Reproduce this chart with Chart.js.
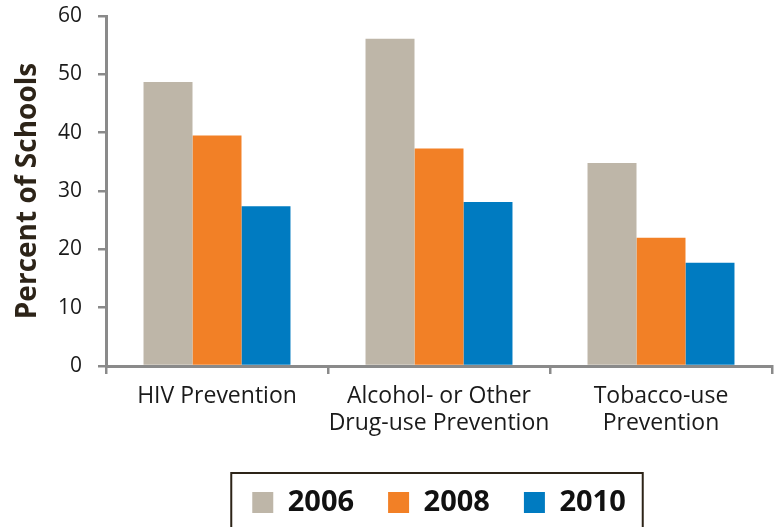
<!DOCTYPE html>
<html>
<head>
<meta charset="utf-8">
<script src="https://cdn.jsdelivr.net/npm/chart.js@4.4.1/dist/chart.umd.min.js"></script>
<style>
  html, body { margin: 0; padding: 0; background: #fff; }
  #wrap { width: 777px; height: 527px; }
</style>
</head>
<body>
<div id="wrap"><canvas id="chart" width="777" height="527"></canvas></div>
<script>
// Datos del gráfico
const categories = [
    ['HIV Prevention'],
    ['Alcohol- or Other', 'Drug-use Prevention'],
    ['Tobacco-use', 'Prevention']
];
const seriesNames = ['2006', '2008', '2010'];
const values2006 = [48.7, 56.1, 34.8];
const values2008 = [39.5, 37.3, 22.0];
const values2010 = [27.4, 28.1, 17.7];
const yTicks = [0, 10, 20, 30, 40, 50, 60];

const colors = ['#beb6a8', '#f28026', '#007bc1'];
const axisColor = '#8a8a8a';
const fontFamily = '"Open Sans", "DejaVu Sans", sans-serif';

// Marco alrededor de la leyenda
const legendFrame = {
    id: 'legendFrame',
    afterDraw(chart) {
        const boxes = chart.legend && chart.legend.legendHitBoxes;
        if (!boxes || !boxes.length) return;
        const left = Math.min(...boxes.map(b => b.left));
        const right = Math.max(...boxes.map(b => b.left + b.width));
        const top = Math.min(...boxes.map(b => b.top));
        const ctx = chart.ctx;
        ctx.save();
        ctx.strokeStyle = '#2d2418';
        ctx.lineWidth = 2;
        ctx.strokeRect(left - 21, top - 15, (right - left) + 38, 120);
        ctx.restore();
    }
};

new Chart(document.getElementById('chart').getContext('2d'), {
    type: 'bar',
    data: {
        labels: categories,
        datasets: [
            { label: seriesNames[0], data: values2006, backgroundColor: colors[0] },
            { label: seriesNames[1], data: values2008, backgroundColor: colors[1] },
            { label: seriesNames[2], data: values2010, backgroundColor: colors[2] }
        ]
    },
    options: {
        responsive: false,
        animation: false,
        layout: { padding: { top: 16, right: 5, left: 0, bottom: 0 } },
        datasets: {
            bar: { categoryPercentage: 0.662, barPercentage: 1.0 }
        },
        scales: {
            x: {
                offset: true,
                grid: {
                    offset: true,
                    drawOnChartArea: false,
                    color: axisColor,
                    lineWidth: 2.5,
                    tickLength: 8
                },
                border: { color: axisColor, width: 3 },
                ticks: {
                    color: '#1a1a1a',
                    padding: 9,
                    maxRotation: 0,
                    autoSkip: false,
                    font: { family: fontFamily, size: 23, lineHeight: 1.18 }
                },
                afterFit(scale) { scale.height = 88; }
            },
            y: {
                min: 0,
                max: 60,
                afterBuildTicks(scale) { scale.ticks = yTicks.map(v => ({ value: v })); },
                grid: {
                    drawOnChartArea: false,
                    color: axisColor,
                    lineWidth: 2.5,
                    tickLength: 8
                },
                border: { color: axisColor, width: 3 },
                ticks: {
                    color: '#1a1a1a',
                    padding: 16,
                    font: { family: fontFamily, size: 21 }
                },
                title: {
                    display: true,
                    text: 'Percent of Schools',
                    color: '#2d2418',
                    padding: { top: 11, bottom: 0 },
                    font: { family: fontFamily, size: 28, weight: 'bold' }
                },
                afterFit(scale) {
                    scale.width = 106;
                    scale.paddingTop = 0;
                    scale.paddingBottom = 0;
                }
            }
        },
        plugins: {
            legend: {
                position: 'bottom',
                fullSize: false,
                labels: {
                    boxWidth: 21,
                    boxHeight: 21,
                    padding: 34,
                    color: '#111',
                    font: { family: fontFamily, size: 29, weight: 'bold' }
                }
            },
            tooltip: { enabled: false }
        }
    },
    plugins: [legendFrame]
});
</script>
</body>
</html>
